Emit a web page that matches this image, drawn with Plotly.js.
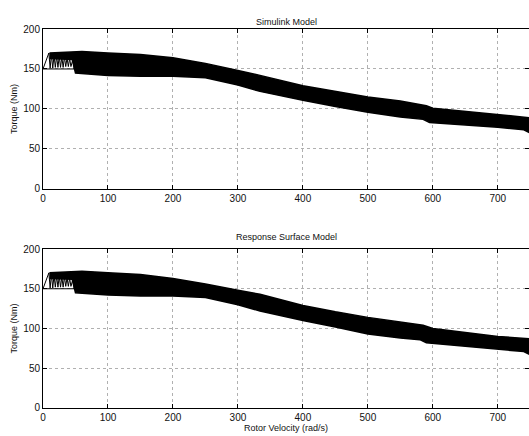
<!DOCTYPE html>
<html><head><meta charset="utf-8">
<script src="https://cdn.plot.ly/plotly-3.0.1.min.js"></script>
<style>html,body{margin:0;padding:0;background:#fff}#c{width:529px;height:436px}</style>
</head><body><div id="c"></div>
<script>
// Simulink model torque band envelopes
const simUpperX = [10, 30, 60, 100, 150, 200, 250, 300, 334, 400, 450, 500, 550, 590, 600, 650, 700, 750];
const simUpperY = [170, 171, 172, 170, 168, 164, 157, 148, 142, 129, 122, 115, 110, 104, 101, 97, 93, 89];
const simLowerX = [10, 45, 50, 100, 150, 200, 250, 300, 334, 400, 450, 500, 550, 585, 595, 650, 700, 740, 750];
const simLowerY = [163, 162, 145, 142, 141, 141, 139, 130, 122, 111, 103, 96, 90, 87, 83, 80, 77, 74, 70];
// Response surface model torque band envelopes
const rsmUpperX = [10, 30, 60, 100, 150, 200, 250, 300, 334, 400, 450, 500, 550, 585, 600, 650, 700, 750];
const rsmUpperY = [170, 171, 172, 170, 168, 163, 156, 148, 143, 129, 121, 114, 108, 104, 100, 95, 90, 87];
const rsmLowerX = [10, 45, 50, 100, 150, 200, 250, 300, 334, 400, 450, 500, 550, 580, 590, 650, 700, 740, 750];
const rsmLowerY = [163, 162, 145, 142, 141, 141, 139, 130, 122, 110, 102, 93, 88, 86, 82, 78, 74, 71, 67];
// start-up transient (oscillating lines, read approximately)
const transX = [0, 9, 11, 13, 15, 17, 19, 21, 23, 25, 27, 29, 31, 33, 35, 37, 39, 41, 43, 46, 48];
const transY = [150, 170, 151, 168, 151, 167, 152, 166, 152, 166, 152, 165, 152, 165, 153, 164, 153, 163, 153, 162, 150];
const baseX = [0, 48];
const baseY = [150, 150];

const xTicks = [0, 100, 200, 300, 400, 500, 600, 700];
const yTicks = [0, 50, 100, 150, 200];

function band(ux, uy, lx, ly, xa, ya) {
  return {
    x: ux.concat(lx.slice().reverse()),
    y: uy.concat(ly.slice().reverse()),
    type: 'scatter', mode: 'lines', fill: 'toself',
    fillcolor: '#000', line: {color: '#000', width: 1.5},
    xaxis: xa, yaxis: ya, hoverinfo: 'skip'
  };
}
function lines(x, y, xa, ya) {
  return {x: x, y: y, type: 'scatter', mode: 'lines',
    line: {color: '#000', width: 1}, xaxis: xa, yaxis: ya};
}
const data = [
  band(simUpperX, simUpperY, simLowerX, simLowerY, 'x', 'y'),
  lines(transX, transY, 'x', 'y'),
  lines(baseX, baseY, 'x', 'y'),
  band(rsmUpperX, rsmUpperY, rsmLowerX, rsmLowerY, 'x2', 'y2'),
  lines(transX, transY, 'x2', 'y2'),
  lines(baseX, baseY, 'x2', 'y2')
];
const font = {family: 'Liberation Sans, Arial, sans-serif', color: '#111', size: 10};
function xax(anchor) {
  return {anchor: anchor, domain: [0, 1], range: [0, 748], tickvals: xTicks,
    ticks: 'inside', ticklen: 4, tickcolor: '#000', showline: true, linecolor: '#000',
    linewidth: 1, mirror: 'ticks', showgrid: true, gridcolor: '#b0b0b0', griddash: 'dot',
    zeroline: false, tickfont: font};
}
function yax(anchor, dom) {
  return {anchor: anchor, domain: dom, range: [0, 200], tickvals: yTicks,
    ticks: 'inside', ticklen: 4, tickcolor: '#000', showline: true, linecolor: '#000',
    linewidth: 1, mirror: 'ticks', showgrid: true, gridcolor: '#b0b0b0', griddash: 'dot',
    zeroline: false, tickfont: font,
    title: {text: 'Torque (Nm)', font: {family: font.family, size: 9, color: '#111'}, standoff: 4}};
}
const xa2 = xax('y2');
xa2.title = {text: 'Rotor Velocity (rad/s)', font: {family: font.family, size: 9, color: '#111'}, standoff: 2};
const layout = {
  width: 529, height: 436, showlegend: false,
  paper_bgcolor: '#fff', plot_bgcolor: '#fff',
  margin: {l: 43, r: 0, t: 29, b: 28},
  xaxis: xax('y'), yaxis: yax('x', [0.578, 1]),
  xaxis2: xa2, yaxis2: yax('x2', [0, 0.4195]),
  annotations: [
    {text: 'Simulink Model', xref: 'paper', yref: 'paper', x: 0.5, y: 1, yshift: 14,
     showarrow: false, font: {family: font.family, size: 9, color: '#111'}},
    {text: 'Response Surface Model', xref: 'paper', yref: 'paper', x: 0.5, y: 0.4195, yshift: 12,
     showarrow: false, font: {family: font.family, size: 9, color: '#111'}}
  ]
};
Plotly.newPlot('c', data, layout, {displayModeBar: false, staticPlot: true});
</script></body></html>
